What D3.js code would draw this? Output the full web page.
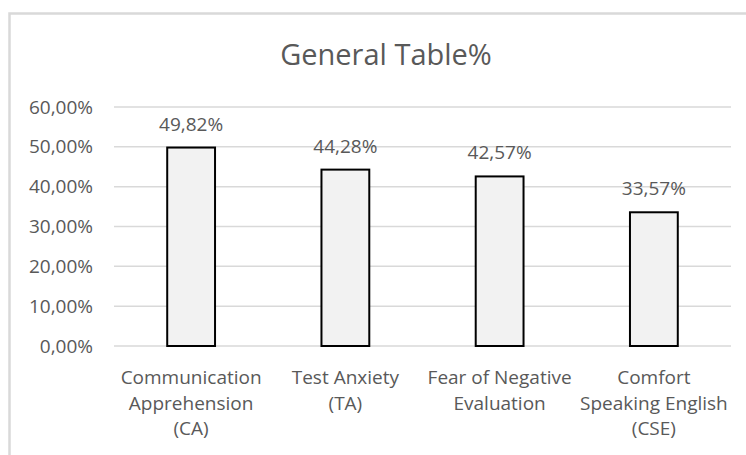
<!DOCTYPE html>
<html>
<head>
<meta charset="utf-8">
<script src="https://cdn.jsdelivr.net/npm/d3@7"></script>
<style>
  html, body { margin: 0; padding: 0; background: #fff; }
  svg { display: block; }
  text { font-family: "Open Sans", "Segoe UI", sans-serif; fill: #595959; }
</style>
</head>
<body>
<script>
const title = "General Table%";
const categories = [
  ["Communication", "Apprehension", "(CA)"],
  ["Test Anxiety", "(TA)"],
  ["Fear of Negative", "Evaluation"],
  ["Comfort", "Speaking English", "(CSE)"]
];
const categoryKeys = ["CA", "TA", "FNE", "CSE"];
const values = [49.82, 44.28, 42.57, 33.57];
const yTicks = [0, 10, 20, 30, 40, 50, 60];

const W = 746, H = 455;
const margin = { left: 114, right: 15, top: 107, bottom: 109 };

const svg = d3.select("body").append("svg").attr("width", W).attr("height", H);

// chart frame
svg.append("rect")
  .attr("x", 9.5).attr("y", 13.5)
  .attr("width", 800).attr("height", 600)
  .attr("fill", "#fff").attr("stroke", "#d9d9d9").attr("stroke-width", 2.5);

const x = d3.scaleBand().domain(categoryKeys).range([margin.left, W - margin.right]).paddingInner(0.69).paddingOuter(0.345);
const y = d3.scaleLinear().domain([0, 60]).range([H - margin.bottom, margin.top]);

const fmt = v => v.toFixed(2).replace(".", ",") + "%";

// gridlines
svg.append("g").selectAll("line").data(yTicks).join("line")
  .attr("x1", margin.left).attr("x2", W - margin.right)
  .attr("y1", d => y(d)).attr("y2", d => y(d))
  .attr("stroke", "#d9d9d9").attr("stroke-width", 1.5);

// y axis labels
const yAxis = d3.axisLeft(y).tickValues(yTicks).tickSize(0).tickPadding(0).tickFormat(fmt);
const gy = svg.append("g").attr("transform", `translate(${margin.left - 21},0)`).call(yAxis);
gy.select(".domain").remove();
gy.selectAll("text").attr("font-size", 19).attr("fill", "#595959")
  .style("font-family", '"Open Sans", sans-serif');

// bars
svg.append("g").selectAll("rect").data(values).join("rect")
  .attr("x", (d, i) => x(categoryKeys[i]))
  .attr("width", x.bandwidth())
  .attr("y", d => y(d))
  .attr("height", d => y(0) - y(d))
  .attr("fill", "#f2f2f2").attr("stroke", "#000").attr("stroke-width", 2);

// data labels
svg.append("g").selectAll("text").data(values).join("text")
  .attr("x", (d, i) => x(categoryKeys[i]) + x.bandwidth() / 2)
  .attr("y", d => y(d) - 17)
  .attr("text-anchor", "middle").attr("font-size", 19)
  .text(d => fmt(d));

// category labels
const gx = svg.append("g");
categories.forEach((lines, i) => {
  const t = gx.append("text")
    .attr("x", x(categoryKeys[i]) + x.bandwidth() / 2)
    .attr("y", 384)
    .attr("text-anchor", "middle").attr("font-size", 19);
  lines.forEach((ln, j) => {
    t.append("tspan").attr("x", x(categoryKeys[i]) + x.bandwidth() / 2)
      .attr("dy", j === 0 ? 0 : 25.5).text(ln);
  });
});

// title
svg.append("text").attr("x", 386).attr("y", 65)
  .attr("text-anchor", "middle").attr("font-size", 29)
  .text(title);
</script>
</body>
</html>
